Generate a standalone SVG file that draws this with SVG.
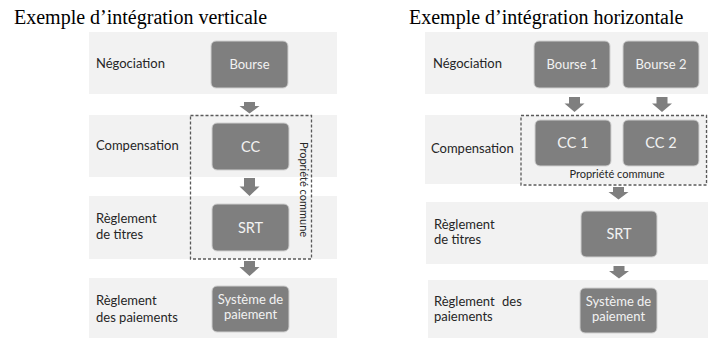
<svg xmlns="http://www.w3.org/2000/svg" width="708" height="339" viewBox="0 0 708 339">
<style>
.title{font-family:"Liberation Serif","Times New Roman",serif;font-size:20px;fill:#000}
.band{fill:#f2f2f2}
.lbl{font-family:Lato,"Open Sans",sans-serif;font-size:13px;fill:#262626}
.box{fill:#7f7f7f;stroke:#d0d0d0;stroke-width:1}
.bt{font-family:Lato,"Open Sans",sans-serif;font-size:13px;fill:#f2f2f2;text-anchor:middle}
.bt2{font-family:Lato,"Open Sans",sans-serif;font-size:14.5px;fill:#f2f2f2;text-anchor:middle}
.dash{fill:none;stroke:#595959;stroke-width:1.3;stroke-dasharray:3 2}
.own{font-family:Lato,"Open Sans",sans-serif;font-size:11px;fill:#262626;text-anchor:middle}
.arr{fill:#7f7f7f}
</style>
<rect width="708" height="339" fill="#fff"/>
<text class="title" x="14" y="24">Exemple d’intégration verticale</text>
<text class="title" x="409" y="24">Exemple d’intégration horizontale</text>

<g id="bands">
<rect class="band" x="89" y="32" width="248" height="62"/>
<rect class="band" x="89" y="115" width="248" height="62"/>
<rect class="band" x="89" y="196" width="248" height="63"/>
<rect class="band" x="89" y="278" width="248" height="60"/>
<rect class="band" x="425" y="32" width="283" height="62"/>
<rect class="band" x="425" y="115" width="283" height="69"/>
<rect class="band" x="426" y="202" width="282" height="62"/>
<rect class="band" x="428" y="280" width="280" height="58"/>
</g>

<g id="labels">
<text class="lbl" x="96" y="68">Négociation</text>
<text class="lbl" x="96" y="150">Compensation</text>
<text class="lbl" x="96" y="223">Règlement</text>
<text class="lbl" x="96" y="239">de titres</text>
<text class="lbl" x="96" y="305">Règlement</text>
<text class="lbl" x="96" y="322">des paiements</text>
<text class="lbl" x="433" y="68">Négociation</text>
<text class="lbl" x="431" y="153">Compensation</text>
<text class="lbl" x="434" y="229">Règlement</text>
<text class="lbl" x="434" y="244">de titres</text>
<text class="lbl" x="434" y="306" word-spacing="4">Règlement des</text>
<text class="lbl" x="434" y="321">paiements</text>
</g>

<g id="ownership-v">
<rect class="dash" x="190.5" y="115.5" width="121" height="143.5"/>
<text class="own" transform="translate(300 189.5) rotate(90)">Propriété commune</text>
</g>
<g id="ownership-h">
<rect class="dash" x="521" y="115.5" width="185.5" height="69.5"/>
<text class="own" x="617" y="178">Propriété commune</text>
</g>

<g id="connectors">
<path class="arr" d="M244 102H255V106H259.5L249.5 113.5L239.5 106H244Z"/>
<path class="arr" d="M244 178H255V186.5H259.5L249.5 196L239.5 186.5H244Z"/>
<path class="arr" d="M244 261H255V267H259.5L249.5 276L239.5 267H244Z"/>
<path class="arr" d="M569 97H580V103.5H584.5L574.5 112L564.5 103.5H569Z"/>
<path class="arr" d="M656.5 97H667.5V103.5H672L662 112L652 103.5H656.5Z"/>
<path class="arr" d="M613 187H624V192H628.5L618.5 199.5L608.5 192H613Z"/>
<path class="arr" d="M613.5 266H624.5V271H629L619 278.5L609 271H613.5Z"/>
</g>

<g id="v-bourse"><rect class="box" x="211" y="41" width="77" height="47" rx="5"/><text class="bt" x="249.5" y="69">Bourse</text></g>
<g id="v-cc"><rect class="box" x="212" y="123" width="77" height="47" rx="5"/><text class="bt2" x="250.5" y="151.5">CC</text></g>
<g id="v-srt"><rect class="box" x="212" y="204" width="77" height="47" rx="5"/><text class="bt2" x="250.5" y="232.5">SRT</text></g>
<g id="v-paiement"><rect class="box" x="212" y="286" width="77" height="46" rx="5"/><text class="bt" x="250.5" y="304">Système de</text><text class="bt" x="250.5" y="319">paiement</text></g>

<g id="h-bourse1"><rect class="box" x="534" y="41" width="76" height="47" rx="5"/><text class="bt" x="572" y="69">Bourse 1</text></g>
<g id="h-bourse2"><rect class="box" x="623" y="41" width="76" height="47" rx="5"/><text class="bt" x="661" y="69">Bourse 2</text></g>
<g id="h-cc1"><rect class="box" x="535" y="120" width="76" height="46" rx="5"/><text class="bt2" x="573" y="148">CC 1</text></g>
<g id="h-cc2"><rect class="box" x="623" y="120" width="76" height="46" rx="5"/><text class="bt2" x="661" y="148">CC 2</text></g>
<g id="h-srt"><rect class="box" x="581" y="211" width="76" height="46" rx="5"/><text class="bt2" x="619" y="239">SRT</text></g>
<g id="h-paiement"><rect class="box" x="580" y="288" width="77" height="45" rx="5"/><text class="bt" x="618.5" y="306">Système de</text><text class="bt" x="618.5" y="321">paiement</text></g>
</svg>
